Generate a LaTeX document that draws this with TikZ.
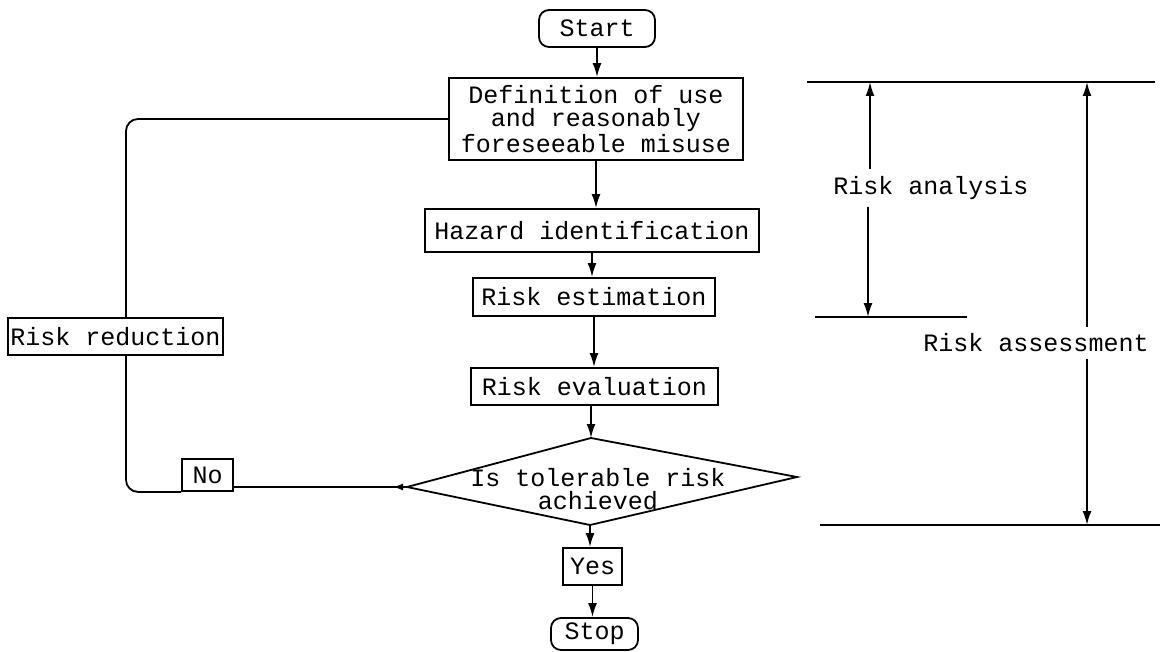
\documentclass[tikz,border=0pt]{standalone}
\usepackage{fontspec}
\setmainfont{Liberation Mono}
\usetikzlibrary{arrows.meta,decorations.markings}
\begin{document}
\begin{tikzpicture}[x=0.5pt,y=-0.5pt,
  font=\fontsize{12.5}{11.5}\selectfont,
  line width=0.9pt,
  box/.style={draw, inner sep=0pt, align=center},
  rbox/.style={box, rounded corners=5pt},
  lbl/.style={inner sep=3pt},
  arr/.style={-{Latex[length=7pt,width=4.5pt]}}]
\useasboundingbox (0,0) rectangle (1160,652);

% main column
\node[rbox, minimum width=58pt, minimum height=18.5pt] (start) at (597,28.5) {Start};
\node[box, minimum width=147pt, minimum height=41pt] (def) at (596,119) {Definition of use\\and reasonably\\foreseeable misuse};
\node[box, minimum width=167pt, minimum height=21.5pt] (haz) at (592,230.5) {Hazard identification};
\node[box, minimum width=121pt, minimum height=19pt] (est) at (594,297) {Risk estimation};
\node[box, minimum width=123.5pt, minimum height=18.5pt] (eva) at (594.5,386.5) {Risk evaluation};

% decision diamond
\coordinate (dT) at (591,438);
\coordinate (dL) at (407,487);
\coordinate (dR) at (797,477);
\coordinate (dB) at (590,525);
\draw (dT) -- (dR) -- (dB) -- (dL) -- cycle;
\node[align=center, inner sep=0pt] (dtext) at (598,489) {Is tolerable risk\\achieved};

\node[box, minimum width=29.5pt, minimum height=18.5pt] (yes) at (592.5,566.5) {Yes};
\node[rbox, minimum width=43.5pt, minimum height=16pt] (stop) at (594.5,634) {Stop};

% loop
\node[box, minimum width=107.5pt, minimum height=18.5pt] (red) at (115.5,336.5) {Risk reduction};
\node[box, minimum width=25.5pt, minimum height=16pt] (no) at (207.5,475) {No};

% connectors
\draw[arr] (start.south) -- (start.south |- def.north);
\draw[arr] (def.south) -- (def.south |- haz.north);
\draw[arr] (haz.south) -- (haz.south |- est.north);
\draw[arr] (est.south) -- (est.south |- eva.north);
\draw[arr] (eva.south -| dT) -- (dT);
\draw[arr] (dB) -- (dB |- yes.north);
\draw[arr] (yes.south) -- (yes.south |- stop.north);

\coordinate (lx) at (126,0);
\draw[rounded corners=6pt] (def.west) -| (lx |- red.north);
\draw[rounded corners=6pt] (lx |- red.south) |- (no.south west);
\draw[postaction={decorate},
  decoration={markings, mark=at position 7pt with {\arrow{Latex[length=5pt,width=3.5pt]}}}]
  (dL) -- (dL -| no.east);

% right-hand brackets
\coordinate (topL) at (807,82);
\coordinate (topR) at (1155,82);
\coordinate (midL) at (815,317);
\coordinate (midR) at (967,317);
\coordinate (botL) at (820,525);
\coordinate (botR) at (1160,525);
\draw (topL) -- (topR);
\draw (midL) -- (midR);
\draw (botL) -- (botR);

\node[lbl] (ran) at (931,188) {Risk analysis};
\node[lbl] (ras) at (1036,343) {Risk assessment};
\coordinate (a1) at (870,82);
\coordinate (a2) at (868,317);
\coordinate (b1) at (1087,82);
\coordinate (b2) at (1087,525);
\draw[arr] (ran.north -| a1) -- (a1);
\draw[arr] (ran.south -| a2) -- (a2);
\draw[arr] (ras.north -| b1) -- (b1);
\draw[arr] (ras.south -| b2) -- (b2);
\end{tikzpicture}
\end{document}
